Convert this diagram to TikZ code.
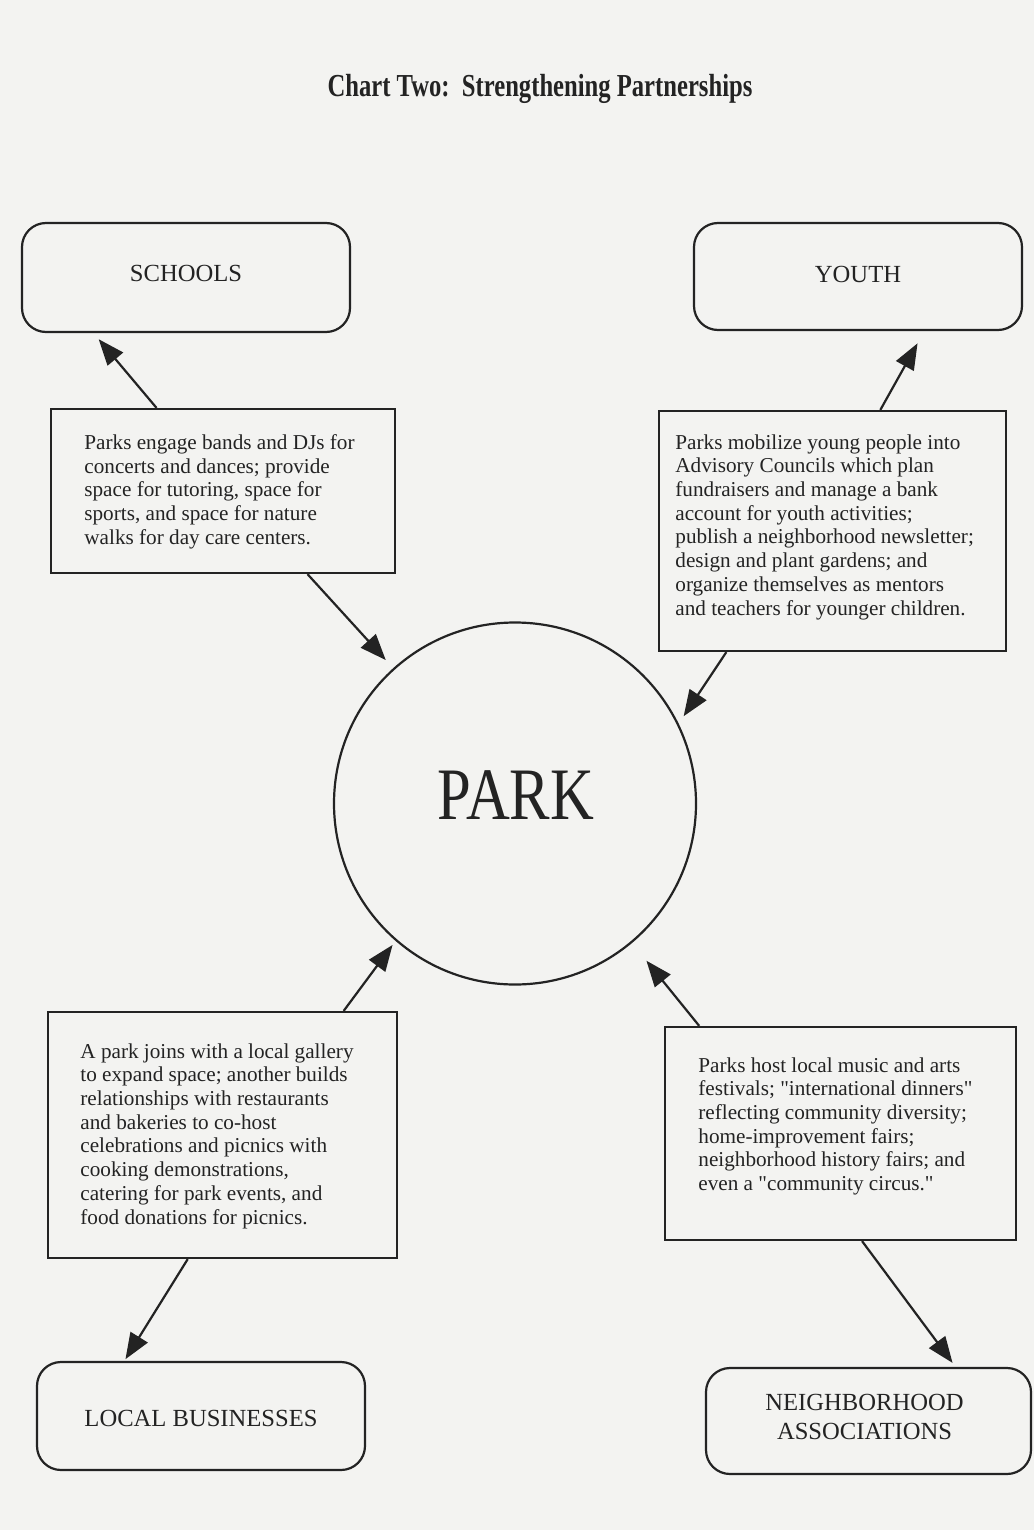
\documentclass[tikz,border=0pt]{standalone}
\usepackage{fontspec}
\setmainfont{Liberation Serif}[Ligatures=TeXOff]
\newfontfamily\titlefont{Liberation Serif}[FakeStretch=0.77]
\newfontfamily\parkfont{Liberation Serif}[FakeStretch=0.82]
\usetikzlibrary{arrows.meta,calc}
\definecolor{bg}{RGB}{243,243,241}
\definecolor{ink}{RGB}{35,35,35}
\definecolor{txt}{RGB}{35,35,35}
\tikzset{
  rbox/.style={draw=ink, line width=1.1pt, rounded corners=12pt, inner sep=0pt},
  tbox/.style={draw=ink, line width=1.1pt, inner sep=0pt},
  lbl/.style={inner sep=0pt, text=txt, align=center, font=\fontsize{12.3}{14.5}\selectfont},
  body/.style={anchor=north west, inner sep=0pt, align=left, text=txt, font=\fontsize{10.6}{11.85}\selectfont},
  arr/.style={draw=ink, line width=1.1pt, -{Triangle[length=13pt,width=10pt]}}
}
\begin{document}
\begin{tikzpicture}[x=0.5pt,y=-0.5pt]
\useasboundingbox (0,0) rectangle (1034,1530);
\fill[bg] (0,0) rectangle (1034,1530);

% title
\node[anchor=base, inner sep=0pt, text=txt, font=\titlefont\bfseries\fontsize{16}{18}\selectfont] (title) at (540,97) {Chart Two:\ \ Strengthening Partnerships};

% centre
\node[circle, draw=ink, line width=1.1pt, minimum size=181pt, inner sep=0pt] (park) at (515,803.5) {};
\node[inner sep=0pt, text=txt, font=\parkfont\fontsize{37}{40}\selectfont] (parkT) at (516,795) {PARK};

% partner boxes
\node[rbox, minimum width=164pt, minimum height=54.5pt] (schools) at (186,277.5) {};
\node[lbl, yshift=2.2pt] (schoolsT) at (schools.center) {SCHOOLS};
\node[rbox, minimum width=164pt, minimum height=53.5pt] (youth) at (858,276.5) {};
\node[lbl, yshift=0.8pt] (youthT) at (youth.center) {YOUTH};
\node[rbox, minimum width=164pt, minimum height=54pt] (local) at (201,1416) {};
\node[lbl, yshift=-1pt] (localT) at (local.center) {LOCAL BUSINESSES};
\node[rbox, minimum width=162.5pt, minimum height=53pt] (neigh) at (868.5,1421) {};
\node[lbl, yshift=1.8pt, xshift=-2pt] (neighT) at (neigh.center) {NEIGHBORHOOD\\ASSOCIATIONS};

% description boxes
\node[tbox, minimum width=172pt, minimum height=82pt] (tl) at (223,491) {};
\node[body] (tlT) at (84,434) {Parks engage bands and DJs for\\concerts and dances; provide\\space for tutoring, space for\\sports, and space for nature\\walks for day care centers.};

\node[tbox, minimum width=173.5pt, minimum height=120pt] (tr) at (832.5,531) {};
\node[body] (trT) at (675,434) {Parks mobilize young people into\\Advisory Councils which plan\\fundraisers and manage a bank\\account for youth activities;\\publish a neighborhood newsletter;\\design and plant gardens; and\\organize themselves as mentors\\and teachers for younger children.};

\node[tbox, minimum width=174.5pt, minimum height=123pt] (bl) at (222.5,1135) {};
\node[body] (blT) at (80,1043) {A park joins with a local gallery\\to expand space; another builds\\relationships with restaurants\\and bakeries to co-host\\celebrations and picnics with\\cooking demonstrations,\\catering for park events, and\\food donations for picnics.};

\node[tbox, minimum width=175.5pt, minimum height=106.5pt] (br) at (840.5,1133.5) {};
\node[body] (brT) at (698,1057) {Parks host local music and arts\\festivals; "international dinners"\\reflecting community diversity;\\home-improvement fairs;\\neighborhood history fairs; and\\even a "community circus."};

% connectors
\draw[arr, shorten >=4pt] ($(tl.north west)!0.308!(tl.north east)$) -- ($(schools.south west)!0.22!(schools.south east)$);
\draw[arr, shorten >=5.5pt] ($(tl.south west)!0.744!(tl.south east)$) -- (park.132);
\draw[arr, shorten >=7pt] ($(tr.north west)!0.637!(tr.north east)$) -- ($(youth.south west)!0.701!(youth.south east)$);
\draw[arr, shorten >=4.5pt] ($(tr.south west)!0.196!(tr.south east)$) -- (park.26);
\draw[arr, shorten >=2.5pt] ($(bl.north west)!0.845!(bl.north east)$) -- (park.229);
\draw[arr, shorten >=1pt] ($(bl.south west)!0.401!(bl.south east)$) -- ($(local.north west)!0.268!(local.north east)$);
\draw[arr, shorten >=11.4pt] ($(br.north west)!0.1!(br.north east)$) -- (park.310.7);
\draw[arr, shorten >=2.5pt] ($(br.south west)!0.561!(br.south east)$) -- ($(neigh.north west)!0.766!(neigh.north east)$);
\end{tikzpicture}
\end{document}
